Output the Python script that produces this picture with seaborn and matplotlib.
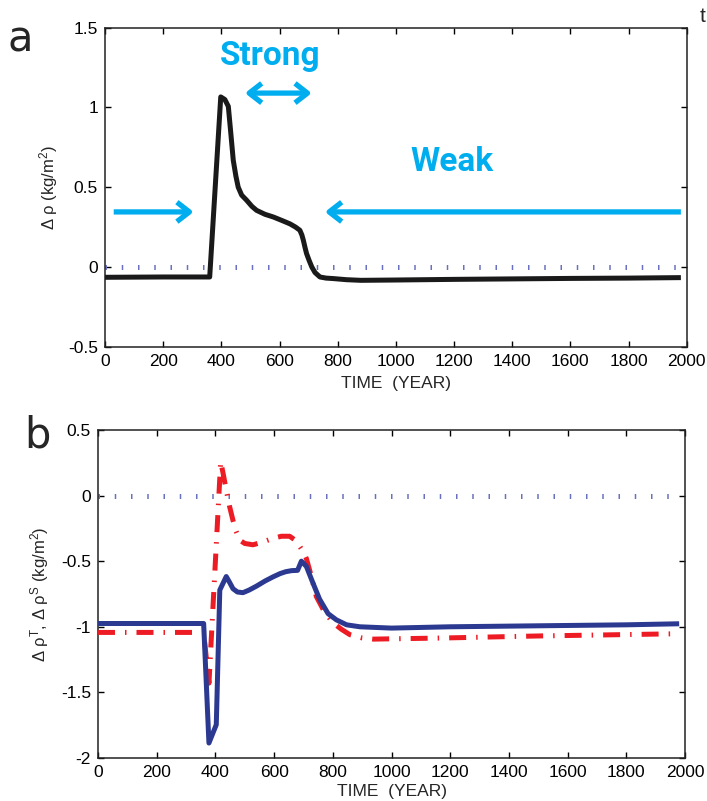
import numpy as np
import pandas as pd
import seaborn as sns
import matplotlib.pyplot as plt

# panel a: total density difference
time_a = [0, 200, 360, 398, 412, 424, 432, 441, 450, 458, 470, 487, 505, 521, 550, 579,
          610, 636, 655, 670, 677, 682, 688, 693, 702, 711, 722, 739, 760, 785, 830, 880,
          1000, 1200, 1400, 1600, 1800, 1980]
rho_total = [-0.065, -0.063, -0.063, 1.066, 1.05, 1.007, 0.85, 0.669, 0.57, 0.50, 0.45,
             0.418, 0.38, 0.355, 0.33, 0.313, 0.29, 0.27, 0.25, 0.23, 0.20, 0.167, 0.12,
             0.084, 0.04, 0.0, -0.035, -0.063, -0.07, -0.073, -0.08, -0.084, -0.082,
             -0.078, -0.075, -0.072, -0.07, -0.067]

# panel b: thermal (blue) and haline (red) parts
time_t = [0, 200, 360, 378, 403, 415, 437, 448, 460, 475, 494, 515, 540, 570, 596, 620,
          640, 660, 680, 693, 710, 733, 755, 784, 812, 847, 892, 1000, 1200, 1400, 1600,
          1800, 1980]
rho_t = [-0.975, -0.975, -0.975, -1.886, -1.746, -0.72, -0.617, -0.66, -0.71, -0.735,
         -0.74, -0.72, -0.69, -0.65, -0.62, -0.595, -0.58, -0.572, -0.57, -0.50, -0.54,
         -0.67, -0.79, -0.90, -0.947, -0.985, -1.0, -1.01, -1.0, -0.995, -0.99, -0.985,
         -0.977]

time_s = [0, 200, 360, 378, 418, 428, 437, 448, 460, 470, 483, 500, 528, 560, 597, 625,
          653, 672, 688, 700, 710, 725, 744, 770, 801, 830, 858, 900, 938, 1165, 1500,
          1980]
rho_s = [-1.043, -1.043, -1.043, -1.43, 0.26, 0.15, 0.04, -0.08, -0.19, -0.27, -0.34,
         -0.365, -0.375, -0.355, -0.325, -0.31, -0.31, -0.34, -0.39, -0.43, -0.48, -0.6,
         -0.77, -0.88, -0.97, -1.02, -1.06, -1.085, -1.094, -1.086, -1.07, -1.053]

ref_line = [0, 1980]
xticks = list(range(0, 2001, 200))
yticks_a = [-0.5, 0, 0.5, 1, 1.5]
yticks_b = [-2, -1.5, -1, -0.5, 0, 0.5]

sns.set_style("ticks")
plt.rcParams['font.family'] = ['Liberation Sans', 'DejaVu Sans']
plt.rcParams['mathtext.fontset'] = 'custom'
plt.rcParams['mathtext.rm'] = 'Liberation Sans'
plt.rcParams['mathtext.it'] = 'Liberation Sans:italic'

cyan = '#00AEEF'
dot_col = '#6870C0'

fig = plt.figure(figsize=(7.07, 8.01), dpi=100)
ax1 = fig.add_axes([0.1485, 0.5672, 0.8228, 0.3982])
ax2 = fig.add_axes([0.1386, 0.0537, 0.8303, 0.4095])


def style_axes(ax, yticks, ylim):
    ax.set_xlim(0, 2000)
    ax.set_ylim(*ylim)
    ax.set_xticks(xticks)
    ax.set_yticks(yticks)
    ax.set_yticklabels([f"{v:g}" for v in yticks])
    ax.tick_params(direction='in', length=4, width=1, top=True, right=True,
                   labelsize=12.5, pad=5, colors='black')
    for s in ax.spines.values():
        s.set_linewidth(1.1)
        s.set_color('#222222')
    # dotted zero line drawn as short thick dashes (vertical ticks)
    ax.plot(ref_line, [0, 0], color=dot_col, lw=3.6, solid_capstyle='butt',
            dash_capstyle='butt', linestyle=(0, (0.3, 2.95)), zorder=1)


# ---- panel a ----
style_axes(ax1, yticks_a, (-0.5, 1.5))
df_a = pd.DataFrame({"time": time_a, "rho": rho_total})
sns.lineplot(data=df_a, x="time", y="rho", ax=ax1, color='#1a1a1a', lw=3.6, sort=False,
             solid_capstyle='butt', solid_joinstyle='round', zorder=3)
ax1.set_xlabel("TIME  (YEAR)", fontsize=12.5, labelpad=5)
ax1.set_ylabel("Δ ρ (kg/m$^{2}$)", fontsize=12, labelpad=5.5)

arrow_kw = dict(color=cyan, lw=3.8, shrinkA=0, shrinkB=0, capstyle='butt',
                mutation_scale=20)
ax1.annotate("", xy=(305, 0.345), xytext=(30, 0.345),
             arrowprops=dict(arrowstyle='->,head_length=0.45,head_width=0.35', **arrow_kw))
ax1.annotate("", xy=(756, 0.345), xytext=(1980, 0.345),
             arrowprops=dict(arrowstyle='->,head_length=0.45,head_width=0.35', **arrow_kw))
ax1.annotate("", xy=(481, 1.09), xytext=(711, 1.09),
             arrowprops=dict(arrowstyle='<->,head_length=0.45,head_width=0.35', **arrow_kw))
ax1.text(567, 1.32, "Strong", color=cyan, fontsize=24, fontweight='bold',
         family='Roboto', ha='center', va='center')
ax1.text(1192, 0.66, "Weak", color=cyan, fontsize=24, fontweight='bold',
         family='Roboto', ha='center', va='center')

# ---- panel b ----
style_axes(ax2, yticks_b, (-2, 0.5))
df_t = pd.DataFrame({"time": time_t, "rho": rho_t})
df_s = pd.DataFrame({"time": time_s, "rho": rho_s})
sns.lineplot(data=df_s, x="time", y="rho", ax=ax2, color='#ED1C24', lw=3.6, sort=False,
             linestyle=(0, (3.4, 2.0, 0.3, 2.0)), dash_capstyle='butt', zorder=3)
sns.lineplot(data=df_t, x="time", y="rho", ax=ax2, color='#2B3990', lw=3.6, sort=False,
             solid_capstyle='butt', solid_joinstyle='round', zorder=4)
ax2.set_xlabel("TIME  (YEAR)", fontsize=12.5, labelpad=3)
ax2.set_ylabel("Δ ρ$^{\\mathrm{T}}$, Δ ρ$^{\\mathrm{S}}$ (kg/m$^{2}$)", fontsize=12,
               labelpad=7.5)

fig.text(20 / 707, 1 - 40 / 801, "a", fontsize=30, ha='center', va='center',
         family='DejaVu Sans')
fig.text(37 / 707, 1 - 436 / 801, "b", fontsize=30, ha='center', va='center',
         family='DejaVu Sans')
fig.text(703 / 707, 1 - 17 / 801, "t", fontsize=15, ha='center', va='center')

fig.savefig("out.png", dpi=100)
